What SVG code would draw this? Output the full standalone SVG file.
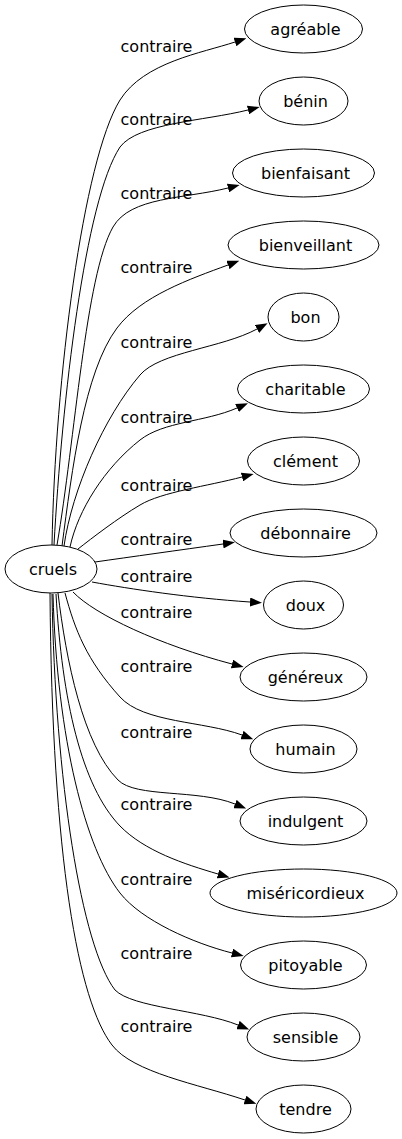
<svg xmlns="http://www.w3.org/2000/svg" width="402" height="1139" viewBox="0 0 402 1139">
<style>
.n ellipse{fill:#fff;stroke:#000;stroke-width:1}
.n text{font-family:"DejaVu Sans",sans-serif;font-size:16px;text-anchor:middle;fill:#000}
.e path{fill:none;stroke:#000;stroke-width:1}
.e text{font-family:"DejaVu Sans",sans-serif;font-size:16px;text-anchor:middle;fill:#000}
</style>
<defs>
<marker id="ah" markerUnits="userSpaceOnUse" markerWidth="12" markerHeight="9" refX="0" refY="4.5" orient="auto" viewBox="0 0 12 9"><path d="M0,0 L12,4.5 L0,9 z" fill="#000"/></marker>
</defs>
<rect width="402" height="1139" fill="#fff"/>
<g id="edges" class="e">
<path marker-end="url(#ah)" d="M52,545 C55,380 83,160 120,100 C144,62 202,53 235,42"/>
<path marker-end="url(#ah)" d="M54,545 C62,400 85,200 120,147 C138,123 204,121 248,110"/>
<path marker-end="url(#ah)" d="M57,545 C75,440 85.5,275 113,227 C130.5,196.5 184,199 228,188"/>
<path marker-end="url(#ah)" d="M62,546 C72,470 84,372 117,328 C141,296 190,279 228,265"/>
<path marker-end="url(#ah)" d="M64,546 C72,490 104,417 140,375 C159.5,352 222,348 257,329"/>
<path marker-end="url(#ah)" d="M70,547 C78,510 104.5,468 140,440 C163.7,421.4 205,422 237,408"/>
<path marker-end="url(#ah)" d="M78,549 C92,538 118,518 140,505 C161.5,492 208,486 242,477"/>
<path marker-end="url(#ah)" d="M95,562 C130,557 180,550 223,544"/>
<path marker-end="url(#ah)" d="M92,582 C130,589 190,598 250,602"/>
<path marker-end="url(#ah)" d="M73,592 C95,615 160,645 232,664"/>
<path marker-end="url(#ah)" d="M65,593 C75,630 86.5,660 120,697 C143.5,723 204,721 242,735"/>
<path marker-end="url(#ah)" d="M58,593 C66,660 83,744.5 118,780 C135.5,798 198,789 235,804"/>
<path marker-end="url(#ah)" d="M56,594 C62,700 81.5,786 120,826 C144.5,851 184,864 218,874"/>
<path marker-end="url(#ah)" d="M53,594 C57,740 86,849.5 120,893 C141.7,920.6 193,943 232,953"/>
<path marker-end="url(#ah)" d="M52,594 C55,780 81.5,946.5 115,990 C132.5,1007.75 201,1010 238,1025"/>
<path marker-end="url(#ah)" d="M50,593 C52,860 78.5,1001.5 112,1045 C133,1072.7 197.5,1084 245,1100"/>
<text x="156.5" y="52">contraire</text>
<text x="156.5" y="125">contraire</text>
<text x="156.5" y="199">contraire</text>
<text x="156.5" y="273">contraire</text>
<text x="156.5" y="348">contraire</text>
<text x="156.5" y="423">contraire</text>
<text x="156.5" y="491">contraire</text>
<text x="156.5" y="545">contraire</text>
<text x="156.5" y="582">contraire</text>
<text x="156.5" y="618">contraire</text>
<text x="156.5" y="672">contraire</text>
<text x="156.5" y="738">contraire</text>
<text x="156.5" y="810">contraire</text>
<text x="156.5" y="885">contraire</text>
<text x="156.5" y="959">contraire</text>
<text x="156.5" y="1032">contraire</text>
</g>
<g id="cruels" class="n"><ellipse cx="51" cy="569" rx="46" ry="24"/><text x="53" y="574.5">cruels</text></g>
<g id="agreable" class="n"><ellipse cx="303.5" cy="29" rx="59" ry="24"/><text x="305.5" y="34.5">agréable</text></g>
<g id="benin" class="n"><ellipse cx="303.5" cy="101" rx="44.5" ry="24"/><text x="305.5" y="106.5">bénin</text></g>
<g id="bienfaisant" class="n"><ellipse cx="303.5" cy="173" rx="71" ry="24"/><text x="305.5" y="178.5">bienfaisant</text></g>
<g id="bienveillant" class="n"><ellipse cx="303.5" cy="245" rx="75.5" ry="24"/><text x="305.5" y="250.5">bienveillant</text></g>
<g id="bon" class="n"><ellipse cx="303.5" cy="317" rx="35.5" ry="24"/><text x="305.5" y="322.5">bon</text></g>
<g id="charitable" class="n"><ellipse cx="303.5" cy="389" rx="66" ry="24"/><text x="305.5" y="394.5">charitable</text></g>
<g id="clement" class="n"><ellipse cx="303.5" cy="461" rx="56" ry="24"/><text x="305.5" y="466.5">clément</text></g>
<g id="debonnaire" class="n"><ellipse cx="303.5" cy="533" rx="73.5" ry="24"/><text x="305.5" y="538.5">débonnaire</text></g>
<g id="doux" class="n"><ellipse cx="303.5" cy="605" rx="40" ry="24"/><text x="305.5" y="610.5">doux</text></g>
<g id="genereux" class="n"><ellipse cx="303.5" cy="677" rx="63.5" ry="24"/><text x="305.5" y="682.5">généreux</text></g>
<g id="humain" class="n"><ellipse cx="303.5" cy="749" rx="53.5" ry="24"/><text x="305.5" y="754.5">humain</text></g>
<g id="indulgent" class="n"><ellipse cx="303.5" cy="821" rx="63.5" ry="24"/><text x="305.5" y="826.5">indulgent</text></g>
<g id="misericordieux" class="n"><ellipse cx="303.5" cy="893" rx="93.5" ry="24"/><text x="305.5" y="898.5">miséricordieux</text></g>
<g id="pitoyable" class="n"><ellipse cx="303.5" cy="965" rx="63" ry="24"/><text x="305.5" y="970.5">pitoyable</text></g>
<g id="sensible" class="n"><ellipse cx="303.5" cy="1037" rx="56.5" ry="24"/><text x="305.5" y="1042.5">sensible</text></g>
<g id="tendre" class="n"><ellipse cx="303.5" cy="1109" rx="47.5" ry="24"/><text x="305.5" y="1114.5">tendre</text></g>
</svg>
